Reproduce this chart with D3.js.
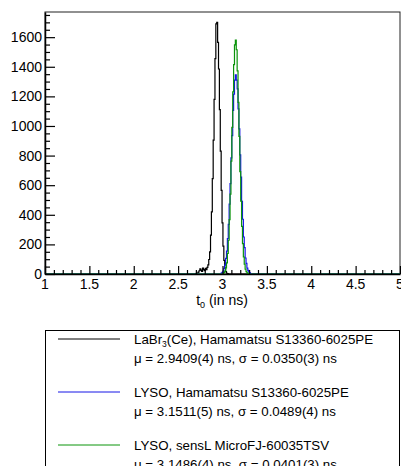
<!DOCTYPE html>
<html lang="en">
<head>
    <meta charset="UTF-8">
    <script src="https://cdn.jsdelivr.net/npm/d3@7"></script>
    <title>t0 distributions</title>
    <style>
        body { margin: 0; background: white; }
        svg text { font-family: "Liberation Sans", Arial, sans-serif; fill: #000; }
    </style>
</head>
<body>
    <div class="figure"></div>
    <script>
        // histogram data, 0.01 ns bins, lower edge of first bin given by *_start
        const binWidth = 0.01;

        const labr_start = 2.695;
        const labr_counts = [2, 4, 6, 12, 22, 35, 26, 18, 40, 30,
            22, 38, 30, 45, 62, 98, 150, 262, 420, 645,
            905, 1180, 1455, 1690, 1700, 1565, 1385, 1110, 830, 565,
            345, 188, 92, 40, 16, 5, 2];

        const lysoHam_start = 2.985;
        const lysoHam_counts = [6, 11, 20, 38, 60, 105, 155, 240, 335, 472,
            610, 785, 935, 1105, 1215, 1310, 1345, 1310, 1250, 1115,
            980, 805, 655, 490, 370, 250, 178, 108, 72, 40,
            25, 12, 7, 3];

        const lysoSensl_start = 3.015;
        const lysoSensl_counts = [9, 20, 42, 75, 140, 228, 368, 540, 762, 990,
            1230, 1415, 1548, 1580, 1515, 1372, 1160, 930, 692, 492,
            322, 205, 115, 66, 32, 16, 7, 3];

        const xMajorTicks = [1, 1.5, 2, 2.5, 3, 3.5, 4, 4.5, 5];
        const yMajorTicks = [0, 200, 400, 600, 800, 1000, 1200, 1400, 1600];

        const legendNames = ["LaBr3(Ce), Hamamatsu S13360-6025PE",
            "LYSO, Hamamatsu S13360-6025PE",
            "LYSO, sensL MicroFJ-60035TSV"];
        const legendFits = ["\u03bc = 2.9409(4) ns, \u03c3 = 0.0350(3) ns",
            "\u03bc = 3.1511(5) ns, \u03c3 = 0.0489(4) ns",
            "\u03bc = 3.1486(4) ns, \u03c3 = 0.0401(3) ns"];
        const colors = ["#000000", "#1414e6", "#0a940a"];

        const width = 401, height = 466;
        const plot = {left: 45, right: 400, top: 12, bottom: 274};

        const svg = d3.select(".figure").append("svg")
            .attr("width", width)
            .attr("height", height);

        const x = d3.scaleLinear().domain([1, 5]).range([plot.left, plot.right]);
        const y = d3.scaleLinear().domain([0, 1770]).range([plot.bottom, plot.top]);

        // frame
        svg.append("rect")
            .attr("x", plot.left).attr("y", plot.top)
            .attr("width", plot.right - plot.left).attr("height", plot.bottom - plot.top)
            .attr("fill", "none").attr("stroke", "#222").attr("stroke-width", 1);

        // histograms as step outlines
        const histLine = d3.line()
            .x(d => x(d[0]))
            .y(d => y(d[1]))
            .curve(d3.curveStepAfter);

        const histPoints = (start, counts) => {
            const pts = [[1, 0], [start, 0]];
            counts.forEach((c, i) => pts.push([start + i * binWidth, c]));
            pts.push([start + counts.length * binWidth, 0]);
            pts.push([5, 0]);
            return pts;
        };

        const series = [
            histPoints(labr_start, labr_counts),
            histPoints(lysoHam_start, lysoHam_counts),
            histPoints(lysoSensl_start, lysoSensl_counts)
        ];

        svg.selectAll("path.hist")
            .data(series)
            .enter()
            .append("path")
            .attr("class", "hist")
            .attr("d", d => histLine(d))
            .attr("fill", "none")
            .attr("stroke", (d, i) => colors[i])
            .attr("stroke-width", 1.2);

        // x axis: ticks pointing into the plot
        const xAxis = d3.axisTop(x)
            .tickValues(d3.range(1, 5.001, 0.1))
            .tickSize(0)
            .tickFormat("");
        const gx = svg.append("g").attr("transform", `translate(0,${plot.bottom})`).call(xAxis);
        gx.select(".domain").attr("stroke-width", 1.5);
        gx.selectAll(".tick line")
            .attr("y2", d => xMajorTicks.some(t => Math.abs(t - d) < 1e-6) ? -8 : -4)
            .attr("stroke-width", 1.2);

        svg.append("g").selectAll("text")
            .data(xMajorTicks)
            .enter()
            .append("text")
            .attr("x", d => x(d))
            .attr("y", plot.bottom + 15)
            .attr("text-anchor", "middle")
            .attr("font-size", 14)
            .text(d => d);

        // y axis
        const yAxis = d3.axisRight(y)
            .tickValues(d3.range(0, 1751, 50))
            .tickSize(0)
            .tickFormat("");
        const gy = svg.append("g").attr("transform", `translate(${plot.left},0)`).call(yAxis);
        gy.select(".domain").attr("stroke-width", 1.5);
        gy.selectAll(".tick line")
            .attr("x2", d => d % 200 === 0 ? 10 : 5)
            .attr("stroke-width", 1.2);

        svg.append("g").selectAll("text")
            .data(yMajorTicks)
            .enter()
            .append("text")
            .attr("x", plot.left - 3)
            .attr("y", d => y(d) + 5)
            .attr("text-anchor", "end")
            .attr("font-size", 14)
            .text(d => d);

        // axis title
        const xt = svg.append("text")
            .attr("x", 222)
            .attr("y", 305)
            .attr("text-anchor", "middle")
            .attr("font-size", 14);
        xt.append("tspan").text("t");
        xt.append("tspan").attr("font-size", 9).attr("dy", 3).text("0");
        xt.append("tspan").attr("dy", -3).text(" (in ns)");

        // legend
        svg.append("rect")
            .attr("x", 45.5).attr("y", 330.5)
            .attr("width", 354).attr("height", 160)
            .attr("fill", "white").attr("stroke", "#000").attr("stroke-width", 1);

        const legend = svg.append("g").selectAll("g")
            .data(legendNames)
            .enter()
            .append("g")
            .attr("transform", (d, i) => `translate(0,${339 + i * 53})`);

        legend.append("line")
            .attr("x1", 58).attr("x2", 120)
            .attr("y1", 0).attr("y2", 0)
            .attr("stroke", (d, i) => colors[i])
            .attr("stroke-width", 1);

        legend.append("text")
            .attr("x", 134).attr("y", 5)
            .attr("font-size", 13.3)
            .each(function (d) {
                const t = d3.select(this);
                if (d.startsWith("LaBr3")) {
                    t.append("tspan").text("LaBr");
                    t.append("tspan").attr("font-size", 8.5).attr("dy", 3).text("3");
                    t.append("tspan").attr("dy", -3).text(d.slice(5));
                } else {
                    t.text(d);
                }
            });

        legend.append("text")
            .attr("x", 134).attr("y", 24)
            .attr("font-size", 13.3)
            .text((d, i) => legendFits[i]);
    </script>
</body>
</html>
